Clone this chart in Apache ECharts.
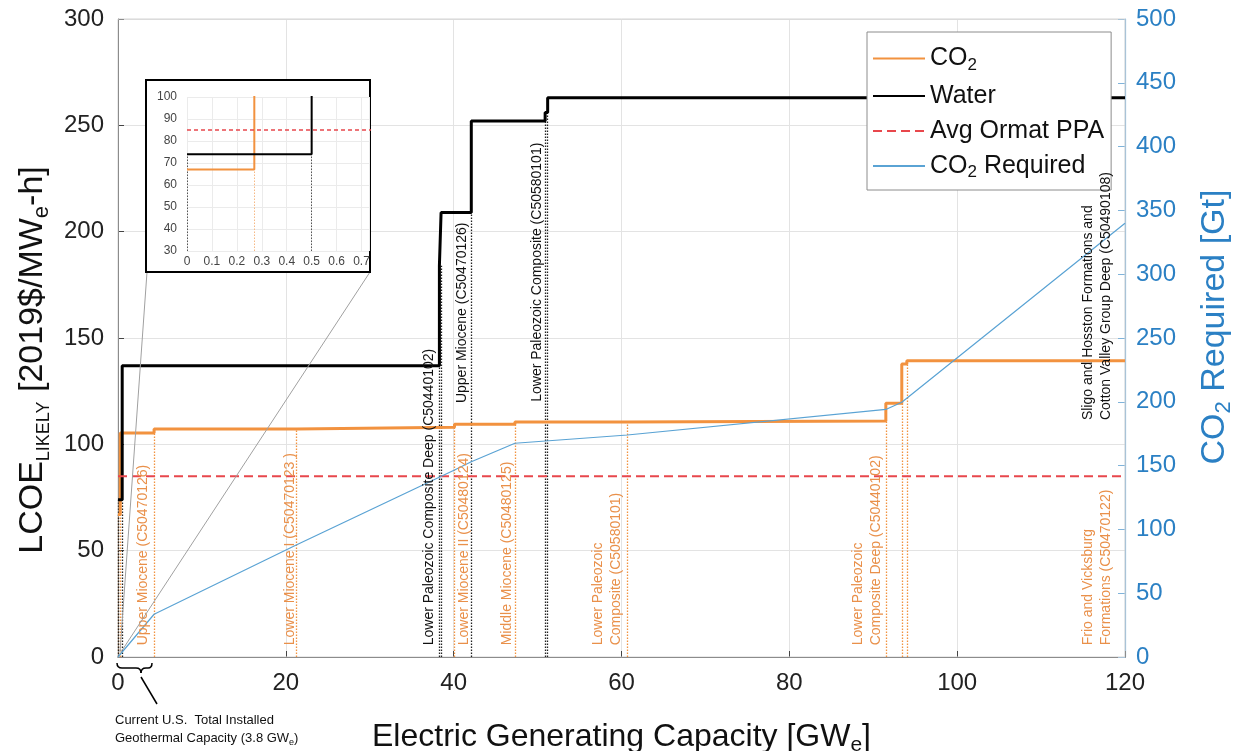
<!DOCTYPE html>
<html><head><meta charset="utf-8">
<script src="https://cdn.jsdelivr.net/npm/echarts@6/dist/echarts.min.js"></script>
<style>html,body{margin:0;padding:0;background:#fff}#c{width:1239px;height:751px}</style>
</head><body><div id="c"></div>
<script>
const FONT = '"Liberation Sans", Arial, sans-serif';
// ---- data ----
const waterX = [0, 0.5, 38.3, 38.5, 42.1, 50.9, 51.2, 120];
const waterY = [74, 137, 184, 209, 252, 256, 263, 263];
const co2X = [0, 0.27, 4.3, 21.3, 40.1, 47.3, 60.7, 91.5, 93.4, 94.0, 120];
const co2Y = [67, 105.3, 107.2, 108, 109.4, 110.5, 111, 119.3, 137.8, 139.3, 139.3];
const reqX = [0, 4.3, 21.3, 40.1, 42.1, 47.3, 60.7, 91.5, 93.4, 120];
const reqY = [0, 33.5, 88, 146.6, 153, 167.5, 174, 194, 199.6, 340];
const ppaX = [0, 120];
const ppaY = [85, 85];
const co2LabelText = ['Upper Miocene (C50470126)', 'Lower Miocene I (C50470123 )', 'Lower Miocene II (C50480124)', 'Middle Miocene (C50480125)', 'Lower Paleozoic\nComposite (C50580101)', 'Lower Paleozoic\nComposite Deep (C50440102)', 'Frio and Vicksburg\nFormations (C50470122)'];
const co2LabelX = [3.0, 20.5, 41.2, 46.4, 58.3, 89.3, 116.7];
const co2LabelY = [5.5, 5.5, 5.5, 5.5, 5.5, 5.5, 5.5];
const waterLabelText = ['Lower Paleozoic Composite Deep (C50440102)', 'Upper Miocene (C50470126)', 'Lower Paleozoic Composite (C50580101)', 'Sligo and Hosston Formations and\nCotton Valley Group Deep (C50490108)'];
const waterLabelX = [37.1, 41.0, 49.9, 116.7];
const waterLabelY = [5.5, 119.4, 120, 111.4];

const ORANGE = '#F2923F', BLACK = '#000', RED = '#E8474C', BLUE = '#5AA3D4', AXBLUE = '#2B80C4';
const pts = (xs, ys) => xs.map((x, i) => [x, ys[i]]);

// dotted verticals at each step, up to the level before the step
function dots(xs, ys, yBase) {
  const out = [];
  for (let i = 0; i < xs.length - 1; i++) {
    const top = i === 0 ? ys[0] : ys[i - 1];
    out.push([{coord: [xs[i], yBase]}, {coord: [xs[i], top]}]);
  }
  return out;
}
const co2Dots = dots(co2X, co2Y, 0);
const waterDots = dots(waterX, waterY, 0);

const chart = echarts.init(document.getElementById('c'), null, {renderer: 'canvas'});
const sub = {fontSize: 17, lineHeight: 9, verticalAlign: 'bottom', fontFamily: FONT};
const option = {
  animation: false,
  textStyle: {fontFamily: FONT},
  grid: [
    {left: 118, right: 114, top: 19, bottom: 94, show: true, borderColor: '#d4d4d4', borderWidth: 1, z: 1, containLabel: false, outerBoundsMode: 'none'},
    {left: 187, top: 97, width: 182, height: 154, z: 60, containLabel: false, outerBoundsMode: 'none'}
  ],
  legend: {
    orient: 'vertical', left: 867, top: 32, itemWidth: 52, itemHeight: 14, itemGap: 10,
    backgroundColor: '#fff', borderColor: '#8c8c8c', borderWidth: 1, padding: [14, 7, 9, 5],
    itemStyle: {opacity: 0},
    data: ['CO2', 'Water', 'Avg Ormat PPA', 'CO2 Required'],
    formatter: n => n === 'CO2' ? '{t|CO}{s|2}' : n === 'CO2 Required' ? '{t|CO}{s|2}{t| Required}' : '{t|' + n + '}',
    textStyle: {fontSize: 25, color: '#111', rich: {t: {fontSize: 25, lineHeight: 30, fontFamily: FONT}, s: sub}},
    z: 40
  },
  xAxis: [
    {gridIndex: 0, type: 'value', min: 0, max: 120, interval: 20,
     name: '{t|Electric Generating Capacity [GW}{s|e}{t|]}', nameLocation: 'middle', nameGap: 61,
     nameTextStyle: {rich: {t: {fontSize: 32, lineHeight: 38, color: '#111', fontFamily: FONT}, s: {fontSize: 21, lineHeight: 10, verticalAlign: 'bottom', color: '#111', fontFamily: FONT}}},
     axisLine: {lineStyle: {color: '#444', width: 1}}, axisTick: {inside: true, length: 6, lineStyle: {color: '#444'}},
     axisLabel: {fontSize: 24, color: '#222', margin: 14},
     splitLine: {lineStyle: {color: '#e3e3e3'}}},
    {gridIndex: 1, type: 'value', min: 0, max: 0.73, interval: 0.1, z: 60,
     axisLine: {show: false}, axisTick: {show: false},
     axisLabel: {fontSize: 12, color: '#444', margin: 5, showMaxLabel: false,
       formatter: v => Math.abs(v * 10 - Math.round(v * 10)) < 1e-6 ? String(Math.round(v * 10) / 10) : ''},
     splitLine: {lineStyle: {color: '#ebebeb'}}}
  ],
  yAxis: [
    {gridIndex: 0, type: 'value', min: 0, max: 300, interval: 50,
     name: '{t|LCOE}{l|LIKELY}{t| [2019$/MW}{s|e}{t|-h]}', nameLocation: 'middle', nameGap: 65, nameRotate: 90,
     nameTextStyle: {padding: [0, 44, 0, 0], rich: {t: {fontSize: 34, lineHeight: 40, color: '#111', fontFamily: FONT}, l: {fontSize: 18, lineHeight: 10, verticalAlign: 'bottom', color: '#111', fontFamily: FONT}, s: {fontSize: 22, lineHeight: 10, verticalAlign: 'bottom', color: '#111', fontFamily: FONT}}},
     axisLine: {show: true, lineStyle: {color: '#444'}}, axisTick: {show: true, inside: true, length: 6, lineStyle: {color: '#444'}},
     axisLabel: {fontSize: 24, color: '#222', margin: 14},
     splitLine: {lineStyle: {color: '#e3e3e3'}}},
    {gridIndex: 0, type: 'value', min: 0, max: 500, interval: 50, position: 'right',
     name: '{t|CO}{s|2}{t| Required [Gt]}', nameLocation: 'middle', nameGap: 70, nameRotate: 90,
     nameTextStyle: {padding: [0, 0, 0, 22], rich: {t: {fontSize: 34, lineHeight: 40, color: AXBLUE, fontFamily: FONT}, s: {fontSize: 22, lineHeight: 10, verticalAlign: 'bottom', color: AXBLUE, fontFamily: FONT}}},
     axisLine: {show: true, lineStyle: {color: '#7fb3da', width: 1.2}}, axisTick: {show: true, inside: true, length: 7, lineStyle: {color: '#7fb3da'}},
     axisLabel: {fontSize: 24, color: AXBLUE, margin: 11},
     splitLine: {show: false}},
    {gridIndex: 1, type: 'value', min: 30, max: 100, interval: 10, z: 60,
     axisLine: {show: false}, axisTick: {show: false},
     axisLabel: {fontSize: 12, color: '#444', margin: 10},
     splitLine: {lineStyle: {color: '#ebebeb'}}}
  ],
  series: [
    {name: 'CO2', type: 'line', xAxisIndex: 0, yAxisIndex: 0, step: 'end', symbol: 'none', data: pts(co2X, co2Y),
     lineStyle: {color: ORANGE, width: 3}, itemStyle: {color: ORANGE}, z: 5,
     markLine: {silent: true, symbol: 'none', label: {show: false}, lineStyle: {color: ORANGE, width: 1.3, type: [1.5, 1.5]}, data: co2Dots, z: 3}},
    {name: 'Water', type: 'line', xAxisIndex: 0, yAxisIndex: 0, step: 'end', symbol: 'none', data: pts(waterX, waterY),
     lineStyle: {color: BLACK, width: 3}, itemStyle: {color: BLACK}, z: 6,
     markLine: {silent: true, symbol: 'none', label: {show: false}, lineStyle: {color: '#222', width: 1.3, type: [1.5, 1.5]}, data: waterDots, z: 3}},
    {name: 'Avg Ormat PPA', type: 'line', xAxisIndex: 0, yAxisIndex: 0, symbol: 'none', data: pts(ppaX, ppaY),
     lineStyle: {color: RED, width: 2, type: [9, 5]}, itemStyle: {color: RED}, z: 7},
    {name: 'CO2 Required', type: 'line', xAxisIndex: 0, yAxisIndex: 1, symbol: 'none', data: pts(reqX, reqY),
     lineStyle: {color: BLUE, width: 1.2}, itemStyle: {color: BLUE}, z: 7},
    // inset
    {name: 'inset-co2', type: 'line', xAxisIndex: 1, yAxisIndex: 2, step: 'end', symbol: 'none', data: pts(co2X, co2Y),
     lineStyle: {color: ORANGE, width: 2}, z: 62,
     markLine: {silent: true, symbol: 'none', label: {show: false}, lineStyle: {color: '#f6b985', width: 1, type: [1.5, 1.5]},
       data: [[{coord: [co2X[1], 30]}, {coord: [co2X[1], 100]}]], z: 61}},
    {name: 'inset-water', type: 'line', xAxisIndex: 1, yAxisIndex: 2, step: 'end', symbol: 'none', data: pts(waterX, waterY),
     lineStyle: {color: BLACK, width: 2}, z: 63,
     markLine: {silent: true, symbol: 'none', label: {show: false}, lineStyle: {color: '#555', width: 1, type: [1.5, 1.5]},
       data: [[{coord: [waterX[1], 30]}, {coord: [waterX[1], waterY[0]]}], [{coord: [0, 30]}, {coord: [0, waterY[0]]}]], z: 61}},
    {name: 'inset-ppa', type: 'line', xAxisIndex: 1, yAxisIndex: 2, symbol: 'none', data: pts(ppaX, ppaY),
     lineStyle: {color: RED, width: 1.3, type: [4, 3]}, z: 62}
  ]
};
chart.setOption(option);

const px = (x, y) => chart.convertToPixel({gridIndex: 0}, [x, y]);
const graphics = [];
function vlabel(text, x, y, color) {
  const p = px(x, y);
  graphics.push({type: 'text', x: p[0], y: p[1], rotation: Math.PI / 2, z: 45,
    style: {text: text, fill: color, font: '14px ' + FONT, align: 'left', textAlign: 'left', verticalAlign: 'middle', textVerticalAlign: 'middle', lineHeight: 18}});
}
co2LabelText.forEach((t, i) => vlabel(t, co2LabelX[i], co2LabelY[i], '#E9904A'));
waterLabelText.forEach((t, i) => vlabel(t, waterLabelX[i], waterLabelY[i], '#111'));

// inset frame and zoom guide lines
graphics.push({type: 'line', shape: {x1: 147, y1: 272, x2: 120, y2: 652}, style: {stroke: '#a0a0a0', lineWidth: 1}, z: 49});
graphics.push({type: 'line', shape: {x1: 370, y1: 272, x2: 121, y2: 652}, style: {stroke: '#a0a0a0', lineWidth: 1}, z: 49});
graphics.push({type: 'rect', shape: {x: 146, y: 80, width: 224, height: 192}, style: {fill: '#fff', stroke: '#000', lineWidth: 2}, z: 50});
// brace + annotation
const braceStyle = {stroke: '#000', lineWidth: 1.5, fill: null};
[
  {x1: 117, y1: 663, cpx1: 117, cpy1: 668, x2: 122, y2: 668},
  {x1: 136, y1: 668, cpx1: 141, cpy1: 668, x2: 141, y2: 673},
  {x1: 141, y1: 673, cpx1: 141, cpy1: 668, x2: 146, y2: 668},
  {x1: 148, y1: 668, cpx1: 152, cpy1: 668, x2: 152, y2: 663}
].forEach(s => graphics.push({type: 'bezierCurve', shape: s, style: braceStyle, z: 30}));
graphics.push({type: 'line', shape: {x1: 122, y1: 668, x2: 136, y2: 668}, style: braceStyle, z: 30});
graphics.push({type: 'line', shape: {x1: 146, y1: 668, x2: 148, y2: 668}, style: braceStyle, z: 30});
graphics.push({type: 'line', shape: {x1: 141, y1: 677, x2: 157, y2: 704}, style: {stroke: '#000', lineWidth: 1.5}, z: 30});
graphics.push({type: 'text', x: 115, y: 711, z: 30,
  style: {text: '{a|Current U.S.  Total Installed}\n{a|Geothermal Capacity (3.8 GW}{s|e}{a|)}', fill: '#111',
    rich: {a: {fontSize: 13, lineHeight: 18, fontFamily: FONT, fill: '#111'}, s: {fontSize: 9, lineHeight: 8, verticalAlign: 'bottom', fontFamily: FONT, fill: '#111'}}}});
chart.setOption({graphic: graphics});
</script></body></html>
